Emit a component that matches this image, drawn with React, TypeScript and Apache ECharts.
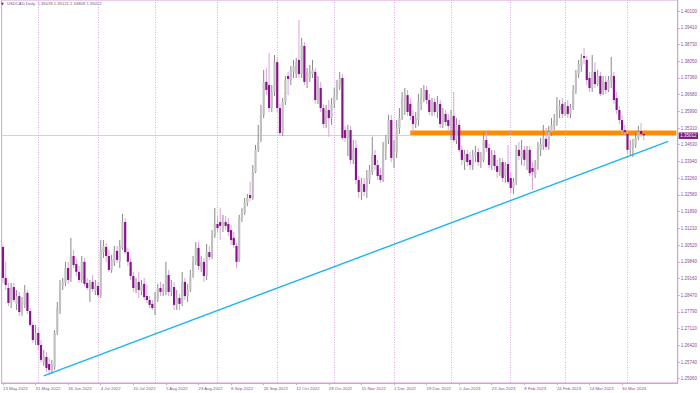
import React, { useEffect, useRef } from 'react';
import * as echarts from 'echarts';

// ---- data ----
const START_DATE = '2022-05-13';
const SKIPPED_DATES = ['2022-12-26'];
const SLOT_COUNT = 249;
const LAST_LABEL_INDEX = 228;

const opens = [
  1.3045, 1.2918, 1.2877, 1.2820, 1.2881, 1.2812, 1.2844, 1.2779, 1.2808, 1.2857, 1.2783, 1.2726,
  1.2664, 1.2693, 1.2644, 1.2574, 1.2595, 1.2566, 1.2538, 1.2554, 1.2693, 1.2787, 1.2889, 1.2898,
  1.2959, 1.2918, 1.3008, 1.2975, 1.2943, 1.2910, 1.2984, 1.2898, 1.2869, 1.2902, 1.2865, 1.2885,
  1.2848, 1.3024, 1.3045, 1.3008, 1.2951, 1.2984, 1.3029, 1.2984, 1.3041, 1.3147, 1.3024, 1.2984,
  1.2926, 1.2869, 1.2902, 1.2865, 1.2894, 1.2844, 1.2828, 1.2812, 1.2795, 1.2828, 1.2877, 1.2861,
  1.2861, 1.2930, 1.2861, 1.2881, 1.2808, 1.2836, 1.2816, 1.2902, 1.2844, 1.2869, 1.2926, 1.2984,
  1.3041, 1.2959, 1.2984, 1.2926, 1.3024, 1.3008, 1.3090, 1.3139, 1.3147, 1.3122, 1.3147, 1.3139,
  1.3114, 1.3082, 1.3049, 1.2992, 1.3163, 1.3184, 1.3225, 1.3257, 1.3245, 1.3352, 1.3442, 1.3482,
  1.3585, 1.3720, 1.3707, 1.3613, 1.3679, 1.3801, 1.3613, 1.3511, 1.3638, 1.3744, 1.3728, 1.3761,
  1.3752, 1.3810, 1.3752, 1.3867, 1.3720, 1.3736, 1.3752, 1.3761, 1.3646, 1.3695, 1.3613, 1.3548,
  1.3605, 1.3572, 1.3630, 1.3666, 1.3703, 1.3736, 1.3523, 1.3491, 1.3523, 1.3401, 1.3450, 1.3319,
  1.3270, 1.3302, 1.3278, 1.3319, 1.3352, 1.3421, 1.3380, 1.3339, 1.3319, 1.3442, 1.3482, 1.3564,
  1.3401, 1.3433, 1.3531, 1.3572, 1.3646, 1.3666, 1.3630, 1.3581, 1.3548, 1.3564, 1.3630, 1.3654,
  1.3687, 1.3646, 1.3597, 1.3638, 1.3597, 1.3630, 1.3548, 1.3589, 1.3564, 1.3540, 1.3581, 1.3482,
  1.3544, 1.3442, 1.3392, 1.3425, 1.3401, 1.3380, 1.3417, 1.3433, 1.3392, 1.3401, 1.3482, 1.3450,
  1.3380, 1.3421, 1.3376, 1.3352, 1.3392, 1.3335, 1.3384, 1.3327, 1.3286, 1.3311, 1.3442, 1.3409,
  1.3442, 1.3392, 1.3442, 1.3368, 1.3339, 1.3376, 1.3442, 1.3458, 1.3487, 1.3458, 1.3515, 1.3540,
  1.3556, 1.3605, 1.3630, 1.3597, 1.3621, 1.3589, 1.3613, 1.3687, 1.3752, 1.3785, 1.3826, 1.3810,
  1.3736, 1.3695, 1.3761, 1.3711, 1.3744, 1.3679, 1.3720, 1.3687, 1.3720, 1.3744, 1.3654, 1.3605,
  1.3564, 1.3523, 1.3507, 1.3442, 1.3454, 1.3462, 1.3491, 1.3519, 1.35078,
];

const highs = [
  1.3053, 1.2984, 1.2898, 1.2898, 1.2898, 1.2869, 1.2861, 1.2840, 1.2889, 1.2869, 1.2795, 1.2738,
  1.2726, 1.2714, 1.2664, 1.2624, 1.2615, 1.2591, 1.2583, 1.2705, 1.2820, 1.2910, 1.2918, 1.2984,
  1.2984, 1.3082, 1.3033, 1.3000, 1.2967, 1.3008, 1.3000, 1.2918, 1.2910, 1.2930, 1.2910, 1.2902,
  1.3073, 1.3073, 1.3061, 1.3033, 1.3012, 1.3049, 1.3049, 1.3073, 1.3180, 1.3163, 1.3041, 1.3000,
  1.2943, 1.2918, 1.2943, 1.2910, 1.2918, 1.2889, 1.2844, 1.2828, 1.2861, 1.2894, 1.2902, 1.2894,
  1.2984, 1.2951, 1.2910, 1.2902, 1.2869, 1.2853, 1.2943, 1.2918, 1.2894, 1.2951, 1.3008, 1.3065,
  1.3065, 1.3008, 1.3000, 1.3057, 1.3049, 1.3114, 1.3204, 1.3172, 1.3204, 1.3176, 1.3172, 1.3163,
  1.3135, 1.3106, 1.3061, 1.3176, 1.3204, 1.3245, 1.3262, 1.3311, 1.3380, 1.3462, 1.3544, 1.3626,
  1.3769, 1.3777, 1.3838, 1.3707, 1.3830, 1.3818, 1.3630, 1.3654, 1.3744, 1.3761, 1.3785, 1.3810,
  1.3818, 1.3973, 1.3900, 1.3883, 1.3777, 1.3789, 1.3810, 1.3777, 1.3744, 1.3720, 1.3630, 1.3626,
  1.3646, 1.3654, 1.3695, 1.3728, 1.3761, 1.3752, 1.3540, 1.3544, 1.3540, 1.3482, 1.3482, 1.3335,
  1.3327, 1.3327, 1.3360, 1.3380, 1.3495, 1.3442, 1.3401, 1.3368, 1.3474, 1.3503, 1.3585, 1.3585,
  1.3482, 1.3564, 1.3613, 1.3679, 1.3695, 1.3687, 1.3654, 1.3605, 1.3597, 1.3671, 1.3695, 1.3707,
  1.3703, 1.3671, 1.3654, 1.3654, 1.3662, 1.3646, 1.3613, 1.3605, 1.3589, 1.3605, 1.3679, 1.3572,
  1.3564, 1.3458, 1.3442, 1.3442, 1.3433, 1.3442, 1.3458, 1.3450, 1.3433, 1.3515, 1.3515, 1.3466,
  1.3442, 1.3442, 1.3401, 1.3409, 1.3409, 1.3392, 1.3462, 1.3352, 1.3327, 1.3462, 1.3474, 1.3482,
  1.3458, 1.3458, 1.3458, 1.3392, 1.3401, 1.3474, 1.3491, 1.3544, 1.3531, 1.3540, 1.3572, 1.3589,
  1.3658, 1.3646, 1.3654, 1.3638, 1.3646, 1.3630, 1.3707, 1.3769, 1.3810, 1.3834, 1.3859, 1.3826,
  1.3761, 1.3830, 1.3801, 1.3769, 1.3761, 1.3744, 1.3744, 1.3744, 1.3822, 1.3761, 1.3679, 1.3621,
  1.3585, 1.3544, 1.3523, 1.3482, 1.3487, 1.3515, 1.3540, 1.3552, 1.35121,
];

const lows = [
  1.2898, 1.2869, 1.2803, 1.2795, 1.2820, 1.2787, 1.2763, 1.2763, 1.2795, 1.2771, 1.2718, 1.2652,
  1.2644, 1.2624, 1.2574, 1.2558, 1.2534, 1.2521, 1.2525, 1.2542, 1.2685, 1.2771, 1.2869, 1.2885,
  1.2894, 1.2902, 1.2959, 1.2926, 1.2898, 1.2898, 1.2885, 1.2869, 1.2820, 1.2861, 1.2848, 1.2840,
  1.2836, 1.3000, 1.2984, 1.2943, 1.2939, 1.2967, 1.2979, 1.2959, 1.3033, 1.3016, 1.2967, 1.2910,
  1.2861, 1.2857, 1.2836, 1.2848, 1.2828, 1.2816, 1.2795, 1.2787, 1.2767, 1.2820, 1.2844, 1.2844,
  1.2848, 1.2844, 1.2844, 1.2787, 1.2787, 1.2787, 1.2803, 1.2828, 1.2820, 1.2861, 1.2918, 1.2971,
  1.2951, 1.2943, 1.2902, 1.2910, 1.2992, 1.2996, 1.3082, 1.3106, 1.3073, 1.3106, 1.3114, 1.3090,
  1.3053, 1.3041, 1.2959, 1.2984, 1.3147, 1.3176, 1.3212, 1.3233, 1.3237, 1.3347, 1.3433, 1.3474,
  1.3572, 1.3666, 1.3597, 1.3597, 1.3662, 1.3597, 1.3499, 1.3499, 1.3626, 1.3666, 1.3707, 1.3736,
  1.3736, 1.3736, 1.3736, 1.3707, 1.3695, 1.3720, 1.3736, 1.3630, 1.3630, 1.3597, 1.3531, 1.3531,
  1.3495, 1.3544, 1.3613, 1.3646, 1.3687, 1.3482, 1.3474, 1.3417, 1.3384, 1.3384, 1.3302, 1.3245,
  1.3237, 1.3253, 1.3245, 1.3302, 1.3339, 1.3360, 1.3319, 1.3307, 1.3311, 1.3401, 1.3466, 1.3392,
  1.3368, 1.3409, 1.3507, 1.3564, 1.3585, 1.3581, 1.3564, 1.3515, 1.3531, 1.3540, 1.3605, 1.3638,
  1.3630, 1.3585, 1.3581, 1.3581, 1.3572, 1.3531, 1.3531, 1.3540, 1.3523, 1.3482, 1.3474, 1.3466,
  1.3433, 1.3380, 1.3360, 1.3376, 1.3360, 1.3360, 1.3392, 1.3376, 1.3368, 1.3392, 1.3433, 1.3368,
  1.3360, 1.3360, 1.3327, 1.3335, 1.3311, 1.3307, 1.3302, 1.3266, 1.3262, 1.3298, 1.3401, 1.3380,
  1.3376, 1.3360, 1.3335, 1.3278, 1.3327, 1.3360, 1.3417, 1.3442, 1.3442, 1.3442, 1.3499, 1.3523,
  1.3540, 1.3572, 1.3572, 1.3581, 1.3572, 1.3572, 1.3605, 1.3671, 1.3736, 1.3761, 1.3793, 1.3707,
  1.3679, 1.3679, 1.3695, 1.3703, 1.3662, 1.3666, 1.3671, 1.3679, 1.3695, 1.3630, 1.3589, 1.3548,
  1.3507, 1.3499, 1.3425, 1.3421, 1.3413, 1.3450, 1.3482, 1.3495, 1.34808,
];

const closes = [
  1.2918, 1.2889, 1.2816, 1.2877, 1.2828, 1.2844, 1.2779, 1.2816, 1.2861, 1.2783, 1.2726, 1.2664,
  1.2693, 1.2644, 1.2583, 1.2599, 1.2550, 1.2542, 1.2562, 1.2693, 1.2795, 1.2889, 1.2902, 1.2959,
  1.2910, 1.3012, 1.2971, 1.2943, 1.2910, 1.2984, 1.2894, 1.2877, 1.2894, 1.2873, 1.2885, 1.2848,
  1.3033, 1.3049, 1.3008, 1.2951, 1.2992, 1.3024, 1.2992, 1.3049, 1.3147, 1.3024, 1.2984, 1.2926,
  1.2877, 1.2894, 1.2869, 1.2889, 1.2840, 1.2828, 1.2808, 1.2795, 1.2828, 1.2877, 1.2861, 1.2873,
  1.2934, 1.2861, 1.2881, 1.2808, 1.2836, 1.2812, 1.2902, 1.2844, 1.2869, 1.2926, 1.2984, 1.3041,
  1.2967, 1.2984, 1.2926, 1.3024, 1.3004, 1.3090, 1.3139, 1.3122, 1.3131, 1.3147, 1.3131, 1.3106,
  1.3073, 1.3053, 1.2984, 1.3163, 1.3184, 1.3225, 1.3245, 1.3245, 1.3352, 1.3442, 1.3474, 1.3585,
  1.3720, 1.3687, 1.3613, 1.3679, 1.3801, 1.3613, 1.3511, 1.3638, 1.3728, 1.3732, 1.3769, 1.3785,
  1.3801, 1.3752, 1.3871, 1.3720, 1.3761, 1.3761, 1.3769, 1.3646, 1.3707, 1.3613, 1.3548, 1.3605,
  1.3572, 1.3630, 1.3666, 1.3703, 1.3740, 1.3491, 1.3491, 1.3523, 1.3401, 1.3442, 1.3319, 1.3270,
  1.3307, 1.3270, 1.3327, 1.3360, 1.3421, 1.3380, 1.3335, 1.3319, 1.3442, 1.3482, 1.3564, 1.3409,
  1.3442, 1.3531, 1.3572, 1.3654, 1.3671, 1.3597, 1.3581, 1.3548, 1.3572, 1.3638, 1.3662, 1.3687,
  1.3646, 1.3597, 1.3638, 1.3597, 1.3630, 1.3548, 1.3589, 1.3556, 1.3540, 1.3581, 1.3482, 1.3544,
  1.3442, 1.3401, 1.3425, 1.3392, 1.3380, 1.3421, 1.3433, 1.3392, 1.3409, 1.3482, 1.3450, 1.3380,
  1.3421, 1.3376, 1.3352, 1.3392, 1.3327, 1.3384, 1.3311, 1.3286, 1.3311, 1.3442, 1.3417, 1.3442,
  1.3401, 1.3433, 1.3347, 1.3352, 1.3380, 1.3450, 1.3466, 1.3491, 1.3454, 1.3515, 1.3544, 1.3564,
  1.3605, 1.3621, 1.3589, 1.3621, 1.3589, 1.3613, 1.3687, 1.3752, 1.3793, 1.3818, 1.3818, 1.3728,
  1.3695, 1.3761, 1.3711, 1.3744, 1.3671, 1.3720, 1.3687, 1.3728, 1.3744, 1.3646, 1.3605, 1.3564,
  1.3523, 1.3515, 1.3442, 1.3458, 1.3466, 1.3491, 1.3515, 1.3507, 1.35012,
];

const yTickValues = [
  1.2506, 1.2574, 1.2642, 1.2711, 1.2779, 1.2847, 1.2916, 1.2984, 1.3052, 1.3121, 1.3189, 1.3258,
  1.3326, 1.3394, 1.3463, 1.3531, 1.3599, 1.3668, 1.3736, 1.3805, 1.3873, 1.3941, 1.4010,
];

const Y_MIN = 1.24885;
const Y_MAX = 1.4055;
const CURRENT_PRICE = 1.35012;
const CURRENT_LABEL = '1.35012';
const TITLE_TEXT = 'USDCAD,Daily  1.35078 1.35121 1.34808 1.35012';

const ZONE_START_INDEX = 150;
const ZONE_LOW = 1.35008;
const ZONE_HIGH = 1.35213;

const TREND_START_INDEX = 15;
const TREND_START_PRICE = 1.2518;
const TREND_END_INDEX = 245;
const TREND_END_PRICE = 1.3477;

// ---- styles ----
const FONT = 'Liberation Sans, Arial, sans-serif';
const AXIS_COLOR = '#d4a0da';
const GRID_COLOR = '#dba9e0';
const LABEL_COLOR = '#8e4c98';
const BULL_BODY = '#c0c0c0';
const BULL_WICK = '#8a8a8a';
const BEAR_BODY = '#87128a';
const BEAR_WICK = '#d8a4dc';
const ZONE_COLOR = '#ff8c00';
const TREND_COLOR = '#1eb4f0';
const PRICE_LINE_COLOR = '#d2d2d2';
const PRICE_BG = '#7e1a80';

const MONTHS = ['Jan', 'Feb', 'Mar', 'Apr', 'May', 'Jun', 'Jul', 'Aug', 'Sep', 'Oct', 'Nov', 'Dec'];

function buildTradingDays(): Date[] {
  const out: Date[] = [];
  const d = new Date(START_DATE + 'T00:00:00Z');
  while (out.length < SLOT_COUNT) {
    const dow = d.getUTCDay();
    const iso = d.toISOString().slice(0, 10);
    if (dow !== 0 && dow !== 6 && !SKIPPED_DATES.includes(iso)) out.push(new Date(d.getTime()));
    d.setUTCDate(d.getUTCDate() + 1);
  }
  return out;
}

const fmtDate = (d: Date) => `${d.getUTCDate()} ${MONTHS[d.getUTCMonth()]} ${d.getUTCFullYear()}`;

export default function App() {
  const ref = useRef<HTMLDivElement>(null);

  useEffect(() => {
    if (!ref.current) return;
    const chart = echarts.init(ref.current, undefined, { renderer: 'svg' });

    const days = buildTradingDays();
    const categories = days.map(fmtDate);
    const barCount = closes.length;

    const candleData = closes.map((c, i) => [i, opens[i], c, lows[i], highs[i]]);

    const monthStarts: number[] = [];
    for (let i = 1; i < barCount; i++) {
      if (days[i].getUTCMonth() !== days[i - 1].getUTCMonth()) monthStarts.push(i);
    }

    const labelShown = (idx: number) => idx % 12 === 0 && idx <= LAST_LABEL_INDEX;

    const renderCandle = (params: any, api: any) => {
      const i = api.value(0);
      const o = api.value(1);
      const c = api.value(2);
      const l = api.value(3);
      const h = api.value(4);
      const pO = api.coord([i, o]);
      const pC = api.coord([i, c]);
      const pL = api.coord([i, l]);
      const pH = api.coord([i, h]);
      const x = pO[0];
      const band = api.size([1, 0])[0];
      const bw = Math.max(1, band * 0.8);
      const bull = c >= o;
      const top = Math.min(pO[1], pC[1]);
      const height = Math.max(0.8, Math.abs(pO[1] - pC[1]));
      return {
        type: 'group',
        children: [
          {
            type: 'line',
            shape: { x1: x, y1: pH[1], x2: x, y2: pL[1] },
            style: { stroke: bull ? BULL_WICK : BEAR_WICK, lineWidth: 1 },
          },
          {
            type: 'rect',
            shape: { x: x - bw / 2, y: top, width: bw, height },
            style: { fill: bull ? BULL_BODY : BEAR_BODY },
          },
        ],
      };
    };

    const option: any = {
      animation: false,
      backgroundColor: '#ffffff',
      textStyle: { fontFamily: FONT },
      grid: {
        left: 0,
        right: 22,
        top: 0,
        bottom: 10,
        show: true,
        borderColor: AXIS_COLOR,
        borderWidth: 1,
        backgroundColor: '#ffffff',
      },
      xAxis: {
        type: 'category',
        data: categories,
        boundaryGap: true,
        axisLine: { show: true, lineStyle: { color: AXIS_COLOR, width: 1 } },
        axisTick: {
          show: true,
          alignWithLabel: true,
          interval: (idx: number) => labelShown(idx),
          length: 2,
          lineStyle: { color: AXIS_COLOR },
        },
        axisLabel: {
          interval: (idx: number) => labelShown(idx),
          align: 'left',
          margin: 3,
          fontSize: 4.3,
          color: LABEL_COLOR,
          fontFamily: FONT,
        },
        splitLine: { show: false },
      },
      yAxis: {
        type: 'value',
        position: 'right',
        min: Y_MIN,
        max: Y_MAX,
        scale: true,
        axisLine: { show: true, lineStyle: { color: AXIS_COLOR, width: 1 } },
        axisTick: {
          show: true,
          length: 2,
          customValues: yTickValues,
          lineStyle: { color: AXIS_COLOR },
        },
        axisLabel: {
          customValues: yTickValues,
          formatter: (v: number) => v.toFixed(5),
          margin: 3,
          fontSize: 4.5,
          color: LABEL_COLOR,
          fontFamily: FONT,
        },
        splitLine: { show: false },
      },
      graphic: [
        {
          type: 'text',
          left: 1,
          top: 1.5,
          style: { text: '\u25BC', fontSize: 3.6, fill: '#7e1a80', fontFamily: 'DejaVu Sans' },
        },
        {
          type: 'text',
          left: 7,
          top: 1.5,
          style: { text: TITLE_TEXT, fontSize: 4.2, fill: '#6e5a78', fontFamily: FONT },
        },
      ],
      series: [
        {
          type: 'custom',
          name: 'USDCAD',
          renderItem: renderCandle,
          data: candleData,
          encode: { x: 0, y: [1, 2, 3, 4] },
          clip: false,
          z: 3,
          markArea: {
            silent: true,
            z: 1,
            itemStyle: { color: ZONE_COLOR, opacity: 1 },
            data: [
              [
                { xAxis: categories[ZONE_START_INDEX], yAxis: ZONE_HIGH },
                { xAxis: categories[SLOT_COUNT - 1], yAxis: ZONE_LOW },
              ],
            ],
          },
          markLine: {
            silent: true,
            z: 1,
            symbol: ['none', 'none'],
            animation: false,
            label: { show: false },
            lineStyle: { color: GRID_COLOR, type: [1, 1.5], width: 1 },
            data: [
              ...monthStarts.map((i) => ({ xAxis: categories[i] })),
              {
                yAxis: CURRENT_PRICE,
                lineStyle: { color: PRICE_LINE_COLOR, type: 'solid', width: 1 },
                label: {
                  show: true,
                  position: 'end',
                  distance: 1,
                  formatter: CURRENT_LABEL,
                  color: '#ffffff',
                  backgroundColor: PRICE_BG,
                  padding: [1, 1.5, 0.5, 1.5],
                  fontSize: 4.5,
                  fontFamily: FONT,
                },
              },
            ],
          },
        },
        {
          type: 'line',
          name: 'trend',
          data: [
            [categories[TREND_START_INDEX], TREND_START_PRICE],
            [categories[TREND_END_INDEX], TREND_END_PRICE],
          ],
          showSymbol: false,
          symbol: 'none',
          silent: true,
          z: 4,
          lineStyle: { color: TREND_COLOR, width: 1.4 },
        },
      ],
    };

    chart.setOption(option);
    return () => chart.dispose();
  }, []);

  return (
    <div
      ref={ref}
      style={{ position: 'absolute', left: 0, top: 0, width: 700, height: 393, background: '#fff' }}
    />
  );
}
